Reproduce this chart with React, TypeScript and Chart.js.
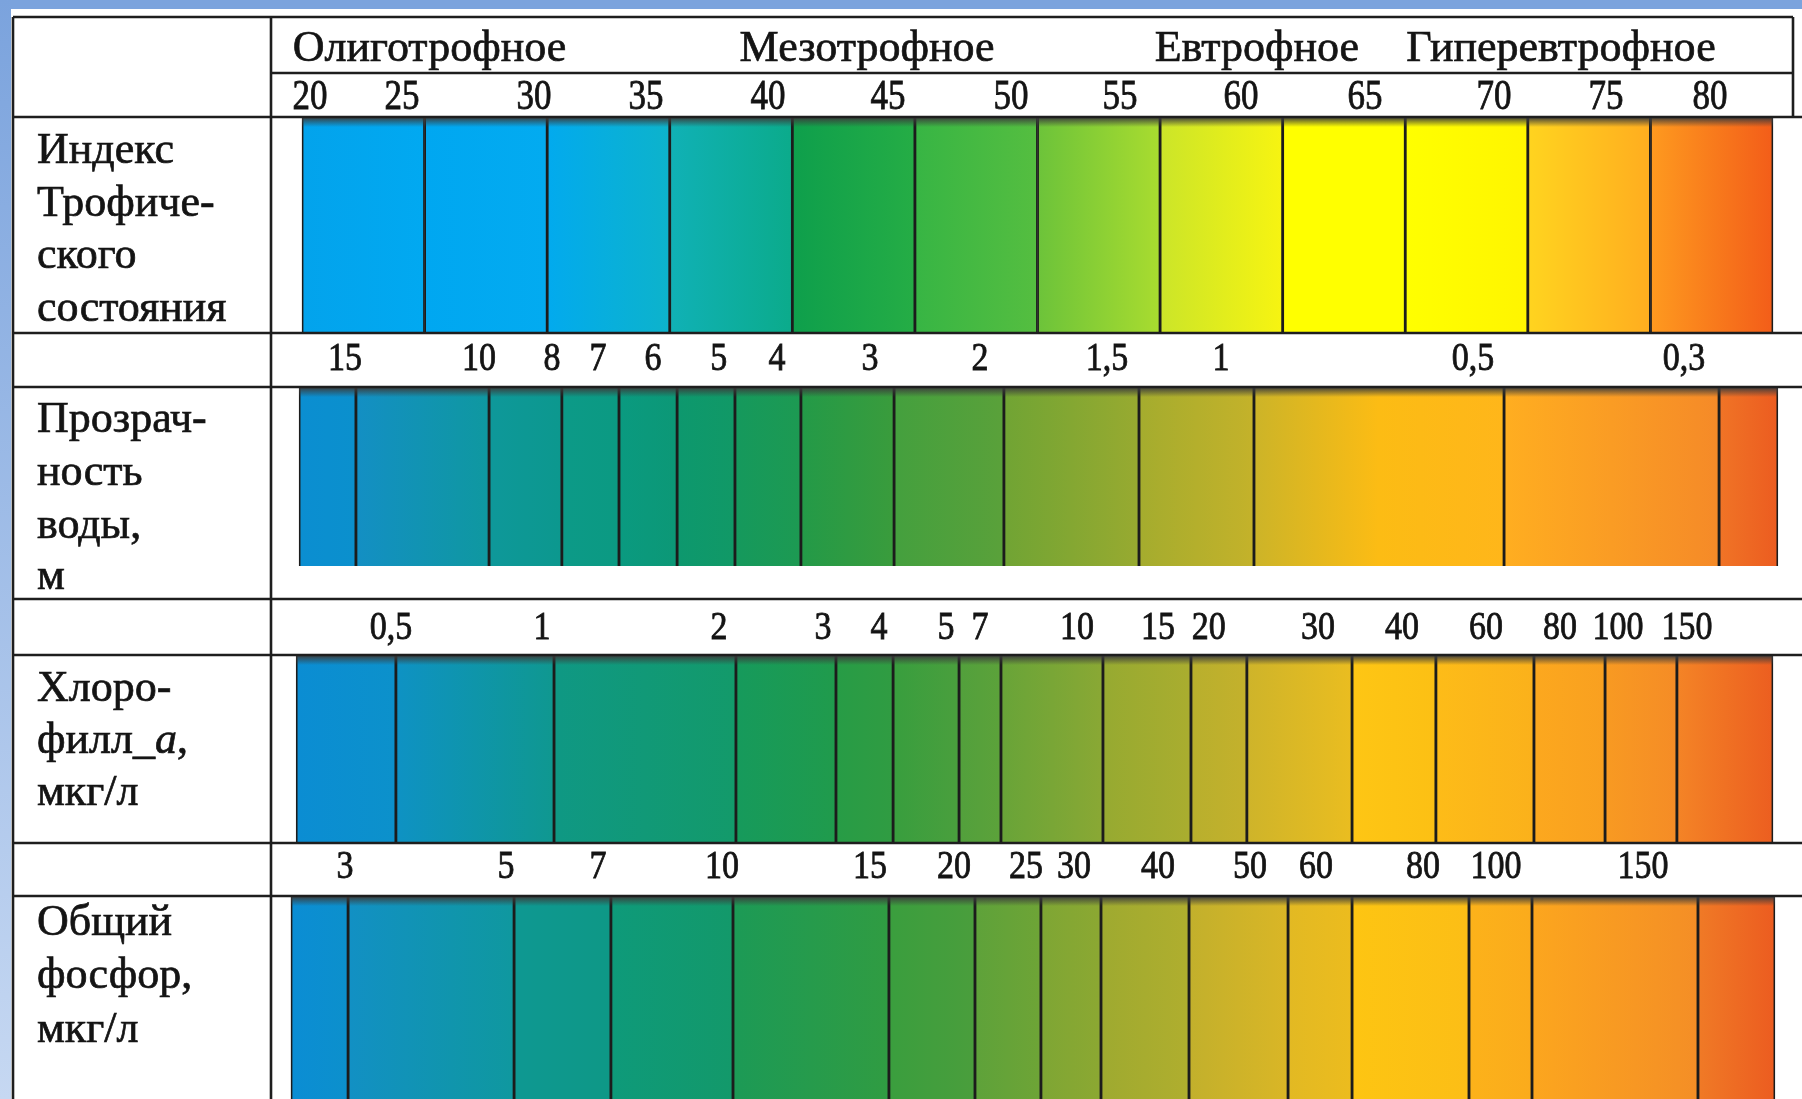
import React, { useEffect, useRef } from "react";
import { Chart, registerables } from "chart.js";

Chart.register(...registerables);

// ---------------- DATA (positions expressed on the Trophic State Index scale) ----------------
const trophicCategories = ["Олиготрофное", "Мезотрофное", "Евтрофное", "Гиперевтрофное"];
const trophicCategoryAt = [25.2, 43.05, 58.95, 71.35];

// Trophic State Index row
const tsiBounds = [20, 25, 30, 35, 40, 45, 50, 55, 60, 65, 70, 75, 80];
const tsiTicks = [20, 25, 30, 35, 40, 45, 50, 55, 60, 65, 70, 75, 80];
const tsiTickAt = [20.33, 24.08, 29.46, 34.03, 39.01, 43.9, 48.92, 53.36, 58.3, 63.36, 68.62, 73.19, 77.43];

// Water transparency (Secchi depth), m
const secchiBounds = [19.88, 22.2, 27.63, 30.6, 32.93, 35.3, 37.66, 40.35, 44.15, 48.63, 54.14, 58.83, 69.03, 77.8, 80.2];
const secchiTicks = [15, 10, 8, 7, 6, 5, 4, 3, 2, 1.5, 1, 0.5, 0.3];
const secchiTickAt = [21.75, 27.22, 30.2, 32.07, 34.32, 37.0, 39.37, 43.17, 47.65, 52.83, 57.48, 67.76, 76.37];

// Chlorophyll a, µg/l
const chlBounds = [19.76, 23.83, 30.28, 37.7, 41.78, 44.11, 46.8, 48.51, 52.67, 56.26, 58.54, 62.83, 66.25, 70.25, 73.15, 76.08, 80];
const chlTicks = [0.5, 1, 2, 3, 4, 5, 7, 10, 15, 20, 30, 40, 60, 80, 100, 150];
const chlTickAt = [23.63, 29.79, 37.01, 41.25, 43.53, 46.27, 47.65, 51.61, 54.91, 56.99, 61.44, 64.87, 68.29, 71.31, 73.68, 76.49];

// Total phosphorus, µg/l
const tpBounds = [19.55, 21.88, 28.65, 32.6, 37.58, 43.94, 47.45, 50.14, 52.59, 56.18, 60.22, 62.83, 67.6, 70.17, 76.94, 80.08];
const tpTicks = [3, 5, 7, 10, 15, 20, 25, 30, 40, 50, 60, 80, 100, 150];
const tpTickAt = [21.75, 28.32, 32.07, 37.13, 43.17, 46.59, 49.53, 51.49, 54.91, 58.67, 61.36, 65.72, 68.7, 74.7];

// ---------------- STYLE / LAYOUT ----------------
const W = 1802;
const H = 1099;
const X_LEFT = 302;
const X_RIGHT = 1773;
const FONT = '"Liberation Serif", "Times New Roman", serif';
const TEXT = "#141414";
const LINE = "#1e1e1e";
const DIGIT_STRETCH = 1.18;

const tsiPalette = [
  ["#03a3ec", "#01a9f1"], ["#00a7f1", "#03abf0"], ["#02aaee", "#0db3cb"], ["#10b1b6", "#0bab8b"],
  ["#0e9f4c", "#25ad45"], ["#37b544", "#55be40"], ["#6cc33a", "#a9dc2f"], ["#cbe529", "#f7f411"],
  ["#ffff00", "#ffff00"], ["#ffff00", "#fff500"], ["#ffd41f", "#ffad1f"], ["#fe9a1f", "#f35d19"],
];
const secchiPalette = [
  ["#0b8ed1", "#0b90cd"], ["#138fc4", "#0f98a0"], ["#0e989a", "#0c988e"], ["#0c9a88", "#0b9a82"],
  ["#0a9a80", "#0c9876"], ["#0d986e", "#119966"], ["#15995d", "#1d9a52"], ["#239a48", "#3a9c3c"],
  ["#44a03e", "#5aa13a"], ["#70a434", "#98aa30"], ["#a4ac2e", "#c4b22a"], ["#ccb428", "#fcbc14", "#ffb61a"],
  ["#ffae20", "#f58a28"], ["#f07426", "#ec5c20"],
];
const chlPalette = [
  ["#0b8dd3", "#0c91cb"], ["#0e92c4", "#0f9890"], ["#0f9884", "#139a6a"], ["#169a5c", "#209b4c"],
  ["#279c46", "#309c42"], ["#389e3e", "#4a9f3d"], ["#52a03c", "#5ca23a"], ["#68a438", "#8aa834"],
  ["#96aa31", "#aaad2f"], ["#b8af2d", "#c4b12c"], ["#ceb42a", "#eabd20"], ["#fec614", "#fcc014"],
  ["#fdbc18", "#fbb11b"], ["#fca81e", "#f9a020"], ["#f89a22", "#f58c26"], ["#f48426", "#ec5e20"],
];
const tpPalette = [
  ["#0b8dd4", "#0c90cc"], ["#1290c4", "#0f989f"], ["#0e9892", "#0e9886"], ["#0e9a7a", "#13996a"],
  ["#1c9a56", "#309c42"], ["#3a9e3e", "#4a9e3c"], ["#5ea23a", "#6ea436"], ["#7ea634", "#8ca832"],
  ["#9eaa30", "#b0ae2e"], ["#c2b02c", "#dab626"], ["#e2b923", "#ecbc1e"], ["#fdc512", "#fcbe16"],
  ["#fcb21a", "#fbab1c"], ["#fca61e", "#f48e26"], ["#f07a26", "#ec5c20"],
];

type Part = { t: string; italic?: boolean };

const rows = [
  {
    bounds: tsiBounds, palette: tsiPalette, top: 117, bottom: 333,
    ticks: tsiTicks, tickAt: tsiTickAt, tickBase: 109, tickSize: 35,
    label: [[{ t: "Индекс" }], [{ t: "Трофиче-" }], [{ t: "ского" }], [{ t: "состояния" }]] as Part[][],
    labelBase: [163, 216, 268, 321],
  },
  {
    bounds: secchiBounds, palette: secchiPalette, top: 387, bottom: 566,
    ticks: secchiTicks, tickAt: secchiTickAt, tickBase: 370, tickSize: 34,
    label: [[{ t: "Прозрач-" }], [{ t: "ность" }], [{ t: "воды," }], [{ t: "м" }]] as Part[][],
    labelBase: [432, 485, 538, 589],
  },
  {
    bounds: chlBounds, palette: chlPalette, top: 655, bottom: 843,
    ticks: chlTicks, tickAt: chlTickAt, tickBase: 639, tickSize: 34,
    label: [[{ t: "Хлоро-" }], [{ t: "филл_" }, { t: "a", italic: true }, { t: "," }], [{ t: "мкг/л" }]] as Part[][],
    labelBase: [701, 753, 805],
  },
  {
    bounds: tpBounds, palette: tpPalette, top: 896, bottom: 1112,
    ticks: tpTicks, tickAt: tpTickAt, tickBase: 878, tickSize: 34,
    label: [[{ t: "Общий" }], [{ t: "фосфор," }], [{ t: "мкг/л" }]] as Part[][],
    labelBase: [935, 988, 1042],
  },
];

const hLines: [number, number, number][] = [
  [17, 13, 1793], [73, 271, 1793], [117, 13, W], [333, 13, W], [387, 13, W],
  [599, 13, W], [655, 13, W], [843, 13, W], [896, 13, W],
];

const fmt = (v: number) => String(v).replace(".", ",");
const ok = (...v: number[]) => v.every((n) => Number.isFinite(n));

function heavyText(ctx: CanvasRenderingContext2D, t: string, x: number, y: number) {
  ctx.fillText(t, x, y);
  ctx.strokeText(t, x, y);
}

function drawParts(ctx: CanvasRenderingContext2D, parts: Part[], x: number, y: number, size: number) {
  let cx = x;
  for (const p of parts) {
    ctx.font = `${p.italic ? "italic " : ""}${size}px ${FONT}`;
    heavyText(ctx, p.t, cx, y);
    cx += ctx.measureText(p.t).width;
  }
}

const tablePlugin = {
  id: "trophicTable",
  beforeDatasetsDraw(chart: any) {
    const ctx: CanvasRenderingContext2D = chart.ctx;
    const xs = chart.scales.x;
    ctx.save();
    // frame
    ctx.fillStyle = "#7ba3dd";
    ctx.fillRect(0, 0, W, H);
    const g = ctx.createLinearGradient(0, 0, 0, H);
    g.addColorStop(0, "#7ba3dd");
    g.addColorStop(1, "#c6d8f2");
    ctx.fillStyle = g;
    ctx.fillRect(0, 0, 11, H);
    ctx.fillStyle = "#ffffff";
    ctx.fillRect(11, 9, W - 11, H - 9);

    ctx.fillStyle = TEXT;
    ctx.strokeStyle = TEXT;
    ctx.lineWidth = 0.7;
    ctx.textBaseline = "alphabetic";
    // category header
    ctx.textAlign = "center";
    ctx.font = `44px ${FONT}`;
    trophicCategories.forEach((c, i) => heavyText(ctx, c, xs.getPixelForValue(trophicCategoryAt[i]), 61));
    // tick rows and row labels
    rows.forEach((r) => {
      ctx.font = `${r.tickSize}px ${FONT}`;
      ctx.textAlign = "center";
      r.ticks.forEach((v, i) => {
        ctx.save();
        ctx.translate(xs.getPixelForValue(r.tickAt[i]), r.tickBase);
        ctx.scale(1, DIGIT_STRETCH);
        heavyText(ctx, fmt(v), 0, 0);
        ctx.restore();
      });
      ctx.textAlign = "left";
      r.label.forEach((parts, i) => drawParts(ctx, parts, 37, r.labelBase[i], 44));
    });

    // vertical lines
    ctx.strokeStyle = LINE;
    ctx.lineWidth = 2.6;
    ctx.beginPath();
    ctx.moveTo(13, 17); ctx.lineTo(13, H);
    ctx.moveTo(271, 17); ctx.lineTo(271, H);
    ctx.moveTo(1793, 17); ctx.lineTo(1793, 117);
    ctx.stroke();
    ctx.restore();
  },
  afterDatasetsDraw(chart: any) {
    const ctx: CanvasRenderingContext2D = chart.ctx;
    ctx.save();
    // soft shadow at the top of every bar
    chart.data.datasets.forEach((_: any, di: number) => {
      const els = chart.getDatasetMeta(di).data;
      if (!els.length) return;
      const first = els[0];
      const last = els[els.length - 1];
      const left = Math.min(first.base, first.x);
      const right = Math.max(last.base, last.x);
      const top = first.y - first.height / 2 + 1;
      if (!ok(left, right, top)) return;
      const sg = ctx.createLinearGradient(0, top, 0, top + 9);
      sg.addColorStop(0, "rgba(60,60,60,0.9)");
      sg.addColorStop(1, "rgba(60,60,60,0)");
      ctx.fillStyle = sg;
      ctx.fillRect(left, top, right - left, 9);
    });
    // horizontal table lines
    ctx.strokeStyle = LINE;
    ctx.lineWidth = 2.6;
    ctx.beginPath();
    hLines.forEach(([y, x0, x1]) => {
      ctx.moveTo(x0, y);
      ctx.lineTo(x1, y);
    });
    ctx.stroke();
    ctx.restore();
  },
};

function makeDataset(r: (typeof rows)[number]) {
  const center = (r.top + r.bottom) / 2;
  return {
    data: r.bounds.slice(0, -1).map((b, i) => ({ x: [b, r.bounds[i + 1]], y: center })),
    barThickness: r.bottom - r.top,
    grouped: false,
    clip: false as any,
    borderSkipped: false as any,
    borderWidth: { top: 0, bottom: 0, left: 1.75, right: 1.75 },
    borderColor: "#1c1c1c",
    backgroundColor: (c: any) => {
      const i = c.dataIndex ?? 0;
      const pal = r.palette[i] || r.palette[0];
      const xs = c.chart?.scales?.x;
      if (!xs || c.type !== "data") return pal[0];
      const a = xs.getPixelForValue(r.bounds[i]);
      const b = xs.getPixelForValue(r.bounds[i + 1]);
      if (!ok(a, b) || a === b) return pal[0];
      const g = c.chart.ctx.createLinearGradient(a, 0, b, 0);
      pal.forEach((col: string, k: number) => g.addColorStop(k / (pal.length - 1), col));
      return g;
    },
  };
}

export default function App() {
  const ref = useRef<HTMLCanvasElement>(null);
  useEffect(() => {
    document.body.style.margin = "0";
    document.body.style.overflow = "hidden";
    const chart = new Chart(ref.current as HTMLCanvasElement, {
      type: "bar",
      data: { datasets: rows.map(makeDataset) as any },
      options: {
        indexAxis: "y",
        responsive: false,
        animation: false,
        devicePixelRatio: 1,
        events: [],
        layout: { padding: { left: X_LEFT, right: W - X_RIGHT, top: 0, bottom: 0 } },
        scales: {
          x: { type: "linear", min: 20, max: 80, display: false, offset: false },
          y: { type: "linear", min: 0, max: H, reverse: true, display: false, offset: false, grid: { offset: false } },
        },
        plugins: { legend: { display: false }, tooltip: { enabled: false }, title: { display: false } },
      } as any,
      plugins: [tablePlugin],
    });
    return () => chart.destroy();
  }, []);
  return (
    <div style={{ position: "absolute", left: 0, top: 0, width: W, height: H, overflow: "hidden" }}>
      <canvas ref={ref} width={W} height={H} style={{ display: "block", width: W, height: H }} />
    </div>
  );
}
